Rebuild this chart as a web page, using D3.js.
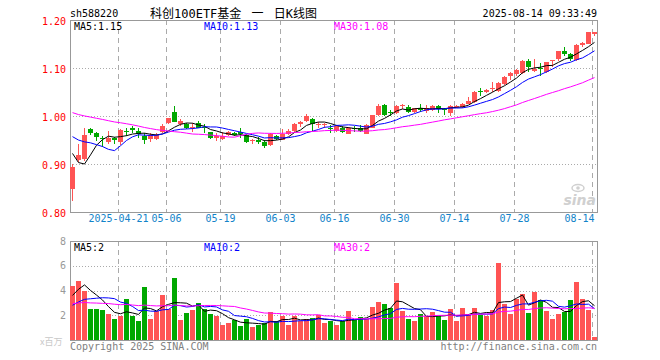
<!DOCTYPE html>
<html><head><meta charset="utf-8">
<script src="https://cdn.jsdelivr.net/npm/d3@7/dist/d3.min.js"></script>
<style>
body{margin:0;background:#fff}
svg{display:block}
text{font-family:"DejaVu Sans Mono",monospace;font-size:10px}
</style></head>
<body><svg id="c" width="660" height="360"></svg>
<script>
// ---------------- data ----------------
const dates = ["04-09","04-10","04-11","04-14","04-15","04-16","04-17","04-18","04-21","04-22","04-23","04-24","04-25","04-28","04-29","04-30",
"05-06","05-07","05-08","05-09","05-12","05-13","05-14","05-15","05-16","05-19","05-20","05-21","05-22","05-23","05-26","05-27","05-28","05-29","05-30",
"06-03","06-04","06-05","06-06","06-09","06-10","06-11","06-12","06-13","06-16","06-17","06-18","06-19","06-20","06-23","06-24","06-25","06-26","06-27","06-30",
"07-01","07-02","07-03","07-04","07-07","07-08","07-09","07-10","07-11","07-14","07-15","07-16","07-17","07-18","07-21","07-22","07-23","07-24","07-25","07-28","07-29","07-30","07-31",
"08-01","08-04","08-05","08-06","08-07","08-08","08-11","08-12","08-13","08-14"];
const open = [.848,.908,.910,.973,.964,.955,.946,.954,.945,.968,.976,.969,.959,.952,.952,.966,.985,1.009,.983,.983,.976,.985,.978,.966,.954,.953,.960,.964,.966,.960,
.948,.951,.946,.940,.958,.950,.962,.969,.983,.990,.994,.981,.981,.976,.969,.976,.963,.976,.975,.963,.976,1.002,1.023,1.008,1.006,1.021,1.018,1.008,1.017,1.010,
1.012,1.021,1.014,1.007,1.018,1.018,1.025,1.030,1.052,1.050,1.057,1.053,1.067,1.083,1.088,1.089,1.115,1.094,1.099,1.091,1.115,1.118,1.135,1.129,1.117,1.148,1.150,1.171];
const high = [.899,.941,.974,.976,.967,.959,.969,.957,.972,.975,.980,.974,.965,.964,.965,.983,.995,1.021,.994,.985,.985,.989,.983,.967,.964,.966,.969,.966,.974,.962,
.953,.956,.950,.964,.960,.973,.973,.985,.990,1.004,.996,.988,.986,.981,.981,.980,.978,.980,.981,.983,1.002,1.024,1.024,1.012,1.022,1.024,1.022,1.017,1.026,1.022,
1.022,1.023,1.016,1.023,1.023,1.028,1.040,1.052,1.058,1.056,1.071,1.071,1.083,1.092,1.097,1.117,1.118,1.118,1.111,1.113,1.117,1.135,1.143,1.132,1.149,1.155,1.174,1.174];
const low = [.823,.905,.907,.961,.948,.935,.942,.941,.940,.958,.964,.955,.941,.946,.950,.964,.983,.987,.980,.972,.967,.974,.964,.952,.948,.950,.958,.958,.954,.944,
.942,.942,.934,.938,.950,.949,.960,.967,.978,.988,.969,.976,.976,.964,.967,.964,.963,.967,.967,.963,.976,1.001,1.001,1.001,1.004,1.015,1.006,1.006,1.009,1.006,
1.011,1.007,1.003,.999,1.016,1.016,1.024,1.028,1.042,1.047,1.051,1.051,1.065,1.075,1.083,1.088,1.091,1.092,1.084,1.090,1.103,1.115,1.124,1.115,1.115,1.144,1.149,1.167];
const close = [.894,.919,.960,.965,.957,.953,.955,.949,.971,.967,.970,.962,.951,.960,.960,.980,.995,.988,.990,.974,.978,.976,.976,.955,.959,.958,.966,.961,.962,.946,
.951,.946,.938,.962,.952,.962,.969,.983,.988,1.000,.983,.983,.983,.973,.980,.967,.976,.974,.969,.981,1.002,1.021,1.002,1.006,1.021,1.023,1.009,1.016,1.012,1.016,
1.021,1.014,1.013,1.021,1.021,1.026,1.032,1.051,1.051,1.055,1.059,1.068,1.082,1.090,1.096,1.115,1.103,1.097,1.097,1.113,1.117,1.135,1.129,1.118,1.148,1.153,1.174,1.174];
// volume, millions
const volume = [4.4,4.8,4.0,2.48,2.48,2.4,2.13,1.68,1.92,3.28,1.92,1.52,4.32,1.68,2.32,3.6,2.48,5.04,1.6,2.16,2.4,2.96,2.48,2.08,1.92,1.2,1.36,1.6,1.12,1.68,
1.04,1.2,1.36,2.24,1.52,1.95,1.2,1.92,1.52,1.68,1.76,2.0,1.36,1.52,1.2,1.52,2.32,1.6,1.84,1.68,2.64,3.04,2.88,2.56,4.64,2.32,1.68,1.52,2.08,1.92,
2.24,1.92,1.6,2.48,1.52,2.56,2.08,2.56,2.0,1.92,2.4,6.24,2.88,2.08,3.28,3.68,2.16,3.84,3.2,2.32,1.68,2.08,2.24,3.2,4.72,3.28,2.4,0.24];
// estimated sessions before the visible window (only used to seed the moving averages)
const priorCloses = [1.040,1.045,1.038,1.030,1.025,1.035,1.028,1.020,1.030,1.035,1.042,1.038,1.030,1.025,1.028,1.035,1.030,1.022,1.030,1.034,
0.990,0.998,0.985,0.995,0.992,1.014,0.975,0.870,0.857];
const priorVolumes = [3.2,2.8,3.5,2.9,3.1,2.6,3.3,3.0,2.7,3.4,2.9,3.1,2.8,3.2,3.0,2.6,3.3,2.9,3.1,2.7,
2.1,1.9,2.0,2.05,2.0,2.3,2.25,4.7,4.35];
const maPeriods = [5,10,30];
const maColors = ["#000000","#0000ff","#ff00ff"];
const priceTicks = [1.20,1.10,1.00,0.90,0.80];
const volTicks = [8,6,4,2];
const dateTicks = ["04-21","05-06","05-19","06-03","06-16","06-30","07-14","07-28","08-14"];
const dateTickLabels = ["2025-04-21","05-06","05-19","06-03","06-16","06-30","07-14","07-28","08-14"];
const code = "sh588220";
const title = "科创100ETF基金 一 日K线图";
const stamp = "2025-08-14 09:33:49";

// ---------------- drawing ----------------
const svg = d3.select("#c");
const UP = "#ff5454", DOWN = "#00a800", GRID = "#aaaaaa", FRAME = "#999999";
const L = 70, R = 597;
const x = d3.scaleBand().domain(dates).range([69, 597]).padding(0);
const cx = d => x(d) + 3;
const yP = d3.scaleLinear().domain([0.80, 1.20]).range([212, 20]);
const yV = d3.scaleLinear().domain([0, 8]).range([340, 241]);

function movingAvg(vals, prior, n) {
  const all = prior.concat(vals), off = prior.length;
  return vals.map((v, i) => d3.mean(all.slice(off + i - n + 1, off + i + 1)));
}
const floor2 = v => (Math.floor(v * 100 + 1e-6) / 100).toFixed(2);

// grid: horizontal dotted
const gGrid = svg.append("g").attr("shape-rendering", "crispEdges");
gGrid.selectAll(".hp").data(priceTicks.slice(1, -1)).join("line")
  .attr("x1", L).attr("x2", R).attr("y1", d => Math.round(yP(d)) + 0.5).attr("y2", d => Math.round(yP(d)) + 0.5)
  .attr("stroke", GRID).attr("stroke-dasharray", "1,2");
gGrid.selectAll(".hv").data(volTicks.slice(1)).join("line")
  .attr("x1", L).attr("x2", R).attr("y1", d => Math.round(yV(d)) + 0.5).attr("y2", d => Math.round(yV(d)) + 0.5)
  .attr("stroke", GRID).attr("stroke-dasharray", "1,2");
// vertical dashed
[[20, 212], [241, 340]].forEach(([t, b]) => {
  gGrid.append("g").selectAll("line").data(dateTicks).join("line")
    .attr("x1", d => x(d) + 1.5).attr("x2", d => x(d) + 1.5).attr("y1", t).attr("y2", b)
    .attr("stroke", GRID).attr("stroke-dasharray", "5,4");
});

// frames
svg.append("rect").attr("x", L + 0.5).attr("y", 20.5).attr("width", R - L).attr("height", 192)
  .attr("fill", "none").attr("stroke", FRAME).attr("shape-rendering", "crispEdges");
svg.append("rect").attr("x", L + 0.5).attr("y", 241.5).attr("width", R - L).attr("height", 99)
  .attr("fill", "none").attr("stroke", FRAME).attr("shape-rendering", "crispEdges");

// watermark (logo eye + word)
const wm = svg.append("g").attr("fill", "#d0d0d0");
wm.append("ellipse").attr("cx", 578).attr("cy", 188).attr("rx", 6).attr("ry", 3.5).attr("fill", "none").attr("stroke", "#d0d0d0").attr("stroke-width", 1.5);
wm.append("circle").attr("cx", 578).attr("cy", 188).attr("r", 1.8);
wm.append("text").attr("x", 596).attr("y", 205).attr("text-anchor", "end")
  .style("font-family", "DejaVu Sans").style("font-size", "14px").style("font-style", "italic").style("font-weight", "bold").text("sina");

// candles
const idx = d3.range(dates.length);
const isUp = i => close[i] >= open[i];
const gC = svg.append("g").attr("shape-rendering", "crispEdges");
gC.selectAll("line").data(idx).join("line")
  .attr("x1", i => cx(dates[i]) + 0.5).attr("x2", i => cx(dates[i]) + 0.5)
  .attr("y1", i => yP(high[i])).attr("y2", i => yP(low[i]))
  .attr("stroke", i => isUp(i) ? UP : DOWN);
gC.selectAll("rect").data(idx).join("rect")
  .attr("x", i => cx(dates[i]) - 2).attr("width", 5)
  .attr("y", i => yP(Math.max(open[i], close[i])))
  .attr("height", i => Math.max(1, Math.abs(yP(open[i]) - yP(close[i]))))
  .attr("fill", i => isUp(i) ? UP : DOWN);

// price MAs
const priceMA = maPeriods.map(n => movingAvg(close, priorCloses, n));
const lineP = d3.line().x((d, i) => cx(dates[i]) + 0.5).y(d => yP(d));
priceMA.forEach((m, k) => svg.append("path").attr("d", lineP(m)).attr("fill", "none").attr("stroke", maColors[k]).attr("stroke-width", 1));

// volume bars
svg.append("g").attr("shape-rendering", "crispEdges").selectAll("rect").data(idx).join("rect")
  .attr("x", i => cx(dates[i]) - 2).attr("width", 5)
  .attr("y", i => yV(volume[i])).attr("height", i => yV(0) - yV(volume[i]))
  .attr("fill", i => isUp(i) ? UP : DOWN);
const volMA = maPeriods.map(n => movingAvg(volume, priorVolumes, n));
const lineV = d3.line().x((d, i) => cx(dates[i]) + 0.5).y(d => yV(d));
volMA.forEach((m, k) => svg.append("path").attr("d", lineV(m)).attr("fill", "none").attr("stroke", maColors[k]).attr("stroke-width", 1));

// axes
const ay = svg.append("g").attr("transform", "translate(66,0)")
  .call(d3.axisLeft(yP).tickValues(priceTicks).tickSize(0).tickPadding(0).tickFormat(d3.format(".2f")));
ay.select(".domain").remove();
ay.selectAll("text").attr("fill", "#ff0000").attr("dy", "0.45em").style("font-size", "10px").style("font-family", "DejaVu Sans Mono");

const av = svg.append("g").attr("transform", "translate(66,0)")
  .call(d3.axisLeft(yV).tickValues(volTicks).tickSize(0).tickPadding(0).tickFormat(d3.format("d")));
av.select(".domain").remove();
av.selectAll("text").attr("fill", "#999999").attr("dy", "0.3em").style("font-size", "10px").style("font-family", "DejaVu Sans Mono");

const ax = svg.append("g").attr("transform", "translate(0,214)")
  .call(d3.axisBottom(x).tickValues(dateTicks).tickSize(0).tickPadding(0)
    .tickFormat((d) => dateTickLabels[dateTicks.indexOf(d)]));
ax.select(".domain").remove();
ax.selectAll(".tick").attr("transform", d => `translate(${x(d) + 1.5},0)`);
ax.selectAll("text").attr("fill", "#1283c9").attr("dy", "0.8em").style("font-size", "10px").style("font-family", "DejaVu Sans Mono");
ax.selectAll("text").filter(d => d === dateTicks[dateTicks.length - 1]).attr("text-anchor", "end").attr("x", 2);

// header
svg.append("text").attr("x", 70).attr("y", 17).attr("fill", "#000").text(code);
svg.append("text").attr("x", 150).attr("y", 18).attr("fill", "#000")
  .style("font-family", "'DejaVu Sans Mono','Noto Sans CJK SC'").style("font-size", "12px")
  .style("word-spacing", "3px").style("white-space", "pre").text(title);
svg.append("text").attr("x", 597).attr("y", 17).attr("text-anchor", "end").attr("fill", "#000").text(stamp);

// MA legends
const legX = [74, 204, 334];
const last = dates.length - 1;
maPeriods.forEach((n, k) => {
  svg.append("text").attr("x", legX[k]).attr("y", 30).attr("fill", maColors[k]).text(`MA${n}:${floor2(priceMA[k][last])}`);
  svg.append("text").attr("x", legX[k]).attr("y", 251).attr("fill", maColors[k]).text(`MA${n}:${Math.floor(volMA[k][last])}`);
});

// footer
svg.append("text").attr("x", 40).attr("y", 345).attr("fill", "#c8c8c8").style("font-family", "'Noto Sans CJK SC'").style("font-size", "9px").text("x百万");
svg.append("text").attr("x", 70).attr("y", 350).attr("fill", "#808080").text("Copyright 2025 SINA.COM");
svg.append("text").attr("x", 597).attr("y", 350).attr("text-anchor", "end").attr("fill", "#808080").text("http://finance.sina.com.cn");
</script></body></html>
